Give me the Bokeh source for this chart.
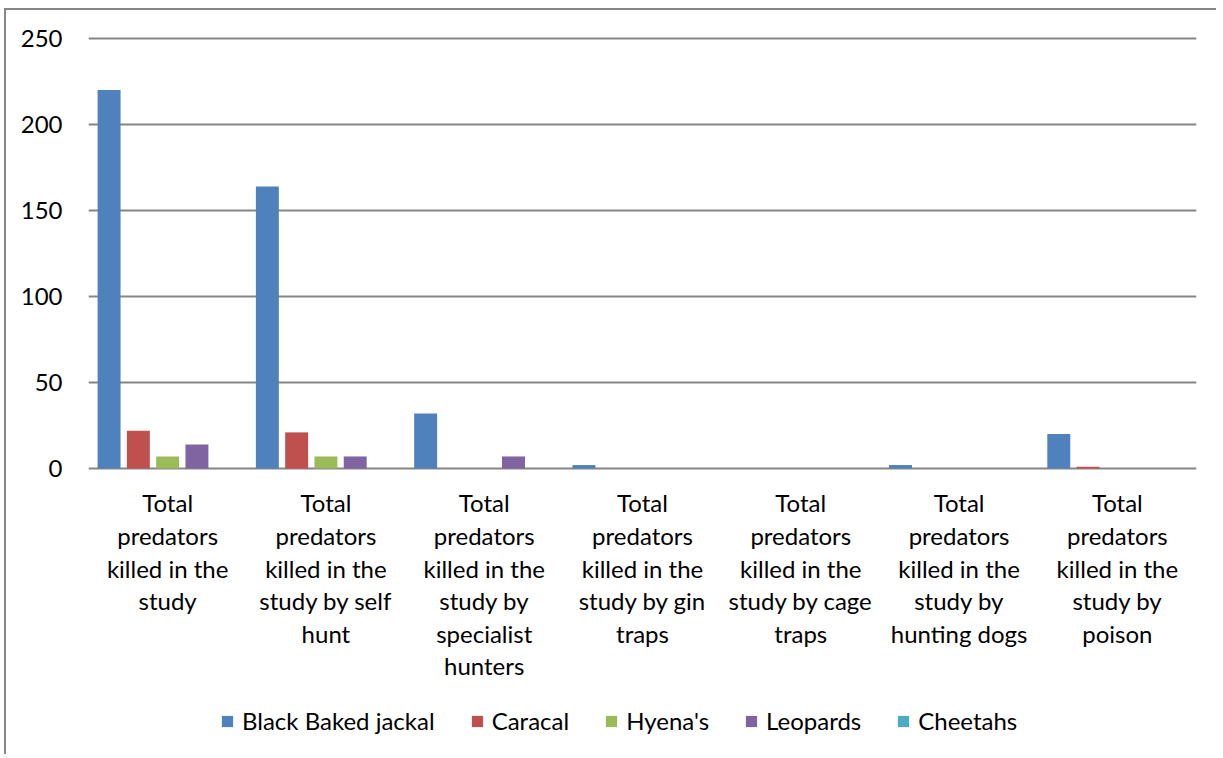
from bokeh.plotting import figure
from bokeh.models import ColumnDataSource, FactorRange, Range1d, FixedTicker, Legend, LegendItem
from bokeh.core.properties import value
from bokeh.transform import dodge
from bokeh.embed import file_html
from bokeh.resources import INLINE

# ---- data ----
categories = [
    "Total predators killed in the study",
    "Total predators killed in the study by self hunt",
    "Total predators killed in the study by specialist hunters",
    "Total predators killed in the study by gin traps",
    "Total predators killed in the study by cage traps",
    "Total predators killed in the study by hunting dogs",
    "Total predators killed in the study by poison",
]
wrapped_labels = [
    "Total\npredators\nkilled in the\nstudy",
    "Total\npredators\nkilled in the\nstudy by self\nhunt",
    "Total\npredators\nkilled in the\nstudy by\nspecialist\nhunters",
    "Total\npredators\nkilled in the\nstudy by gin\ntraps",
    "Total\npredators\nkilled in the\nstudy by cage\ntraps",
    "Total\npredators\nkilled in the\nstudy by\nhunting dogs",
    "Total\npredators\nkilled in the\nstudy by\npoison",
]
series_names = ["Black Baked jackal", "Caracal", "Hyena's", "Leopards", "Cheetahs"]
jackal = [220, 164, 32, 2, 0, 2, 20]
caracal = [22, 21, 0, 0, 0, 0, 1]
hyena = [7, 7, 0, 0, 0, 0, 0]
leopards = [14, 7, 7, 0, 0, 0, 0]
cheetahs = [0, 0, 0, 0, 0, 0, 0]
y_ticks = [0, 50, 100, 150, 200, 250]

colors = ["#4F81BD", "#C0504D", "#9BBB59", "#8064A2", "#4BACC6"]
FONT = "Lato"
GRID = "#868686"
FS = "24px"

# layout geometry (pixels, relative to the figure's content box)
W, H = 1212, 746
top_px = 25                    # frame top
y250_px, y0_px = 28, 458       # where 250 and 0 fall
px_per_unit = (y0_px - y250_px) / 250.0
y_end = 250 + (y250_px - top_px) / px_per_unit
y_start = -(H - y0_px) / px_per_unit

source = ColumnDataSource(dict(cat=categories, label=wrapped_labels,
                               s0=jackal, s1=caracal, s2=hyena, s3=leopards, s4=cheetahs))

p = figure(
    x_range=FactorRange(factors=categories),
    y_range=Range1d(y_start, y_end),
    width=W, height=H,
    output_backend="svg", toolbar_location=None,
    min_border_left=82, min_border_top=top_px, min_border_right=22, min_border_bottom=0,
)
p.styles = {"margin-left": "4px", "margin-top": "8px",
            "border-left": "2px solid #868686", "border-top": "2px solid #868686"}
p.outline_line_color = None
p.background_fill_color = "white"
p.border_fill_color = "white"

offsets = [-0.37, -0.185, 0.0, 0.185, 0.37]
items = []
for i, (name, col) in enumerate(zip(series_names, colors)):
    r = p.vbar(x=dodge("cat", offsets[i], range=p.x_range), top="s%d" % i, bottom=0,
               width=0.145, source=source, fill_color=col, line_color=None)
    items.append(LegendItem(label=name, renderers=[r]))

# category labels (multi-line) under the zero line
p.text(x="cat", y=-11.5, text="label", source=source, text_align="center", text_baseline="top",
       text_font=value(FONT), text_font_size=FS, text_line_height=1.125, text_color="black")

# axes
p.yaxis.ticker = FixedTicker(ticks=y_ticks)
p.yaxis.axis_line_color = None
p.yaxis.major_tick_line_color = None
p.yaxis.major_tick_out = 0
p.yaxis.major_tick_in = 0
p.yaxis.minor_tick_line_color = None
p.yaxis.major_label_standoff = 26
p.yaxis.major_label_text_font = FONT
p.yaxis.major_label_text_font_size = FS
p.yaxis.major_label_text_color = "black"
p.xaxis.visible = False

p.xgrid.grid_line_color = None
p.ygrid.grid_line_color = GRID
p.ygrid.grid_line_width = 2

legend = Legend(items=items, orientation="horizontal", location=(132, 21),
                glyph_width=14, glyph_height=14, label_standoff=8, spacing=35,
                padding=0, margin=0, border_line_color=None, background_fill_alpha=0,
                label_text_font=FONT, label_text_font_size=FS, label_text_baseline="middle",
                label_text_color="black")
p.add_layout(legend, "center")

open("out.html", "w").write(file_html(p, INLINE))
